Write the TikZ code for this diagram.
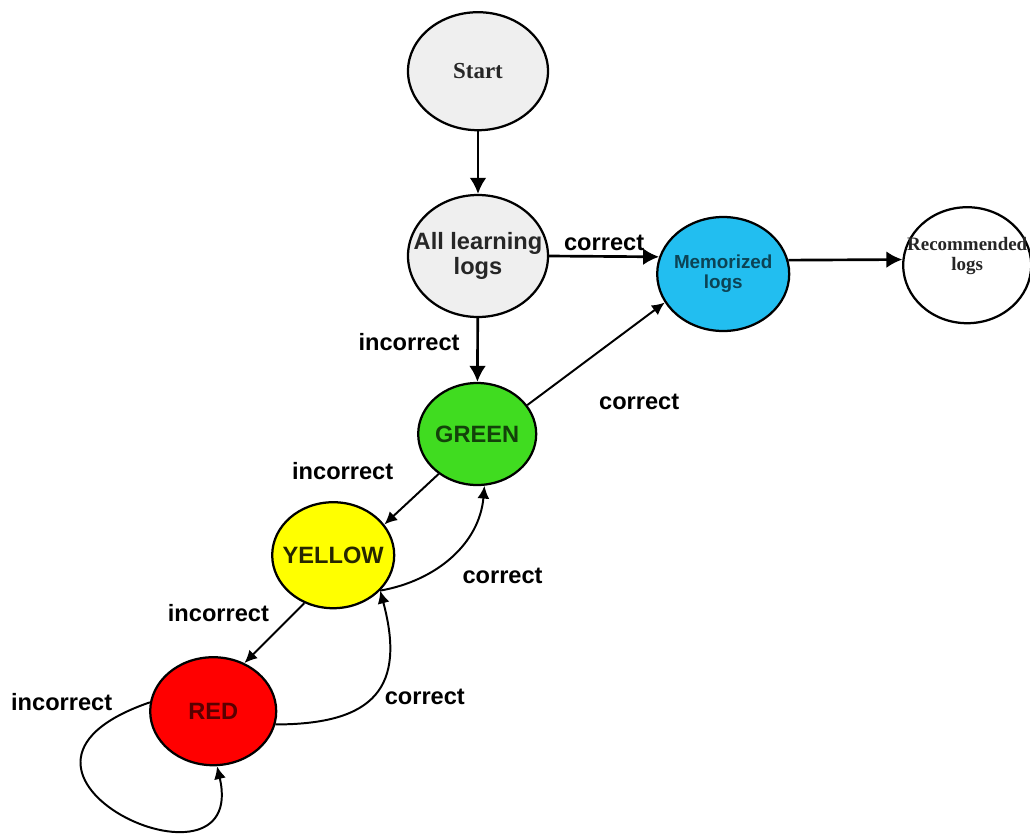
\documentclass[tikz,border=0pt]{standalone}
\usepackage{fontspec}
\setmainfont{Liberation Serif}
\setsansfont{Liberation Sans}
\usetikzlibrary{arrows.meta,shapes.geometric}
\definecolor{logsgrey}{HTML}{EFEFEF}
\definecolor{memblue}{HTML}{22BEF0}
\definecolor{boxgreen}{HTML}{40DC20}
\definecolor{boxyellow}{HTML}{FFFF00}
\definecolor{boxred}{HTML}{FF0000}
\newcommand{\ctext}[1]{\makebox[0pt]{#1}}

\begin{document}
\begin{tikzpicture}[
        logstate/.style={ellipse, draw, line width=1.6pt, inner sep=0pt, align=center,
            font=\sffamily\bfseries\fontsize{16.8}{17.8}\selectfont},
        lbl/.style={font=\sffamily\bfseries\fontsize{16.8}{18}\selectfont},
        thick arrow/.style={line width=1.9pt, -{Latex[length=0.4cm,width=0.42cm]}},
        thin arrow/.style={line width=1.4pt, -{Latex[length=0.32cm,width=0.3cm]}}
    ]
        \useasboundingbox (0,0) rectangle (25.75,-20.975);
        \node[logstate, fill=logsgrey, minimum width=3.5cm, minimum height=2.95cm,
            font=\rmfamily\bfseries\fontsize{16.3}{18}\selectfont, text=black!85](Start) at (11.95,-1.78) {\ctext{Start}};
        \node[logstate, fill=logsgrey, minimum width=3.5cm, minimum height=3.05cm,
            text=black!85](All) at (11.95,-6.4) {\ctext{All learning}\\\ctext{logs}};
        \node[logstate, fill=memblue, minimum width=3.3cm, minimum height=2.85cm, text=black!65!memblue,
            font=\sffamily\bfseries\fontsize{13.4}{14.2}\selectfont](Mem) at (18.08,-6.85) {\ctext{Memorized}\\\ctext{logs}};
        \node[logstate, minimum width=3.2cm, minimum height=2.9cm, text=black!85, text depth=0.55cm,
            font=\rmfamily\bfseries\fontsize{13.5}{14.2}\selectfont](Rec) at (24.18,-6.63) {\ctext{Recommended}\\\ctext{logs}};
        \node[logstate, fill=boxgreen, minimum width=2.95cm, minimum height=2.55cm,
            text=black!70!boxgreen](Green) at (11.93,-10.85) {\ctext{GREEN}};
        \node[logstate, fill=boxyellow, minimum width=3.05cm, minimum height=2.65cm,
            text=black!85!boxyellow](Yellow) at (8.33,-13.88) {\ctext{YELLOW}};
        \node[logstate, fill=boxred, minimum width=3.15cm, minimum height=2.7cm,
            text=black!65!boxred](Red) at (5.33,-17.78) {\ctext{RED}};
        \path
            (Start) edge [thick arrow] (All)
            (All) edge [thick arrow] node[lbl, left=0.3cm, pos=0.38] {incorrect} (Green)
            (All.east) edge [thick arrow] node[lbl, above] {correct} (Mem.165)
            (Mem.12) edge [thick arrow] (Rec.175)
            (Green.30) edge [thin arrow] node[lbl, xshift=1.08cm, yshift=-1.2cm] {correct} (Mem.206)
            (Green.226) edge [thin arrow] node[lbl, xshift=-1.72cm, yshift=0.7cm] {incorrect} (Yellow.31)
            (Yellow.323) edge [thin arrow, out=10, in=-95] node[lbl, xshift=1.27cm, yshift=-0.5cm] {correct} (Green.278)
            (Yellow.239) edge [thin arrow] node[lbl, xshift=-1.4cm, yshift=0.5cm] {incorrect} (Red.57)
            (Red.348) edge [thin arrow, out=0, in=-75, looseness=1.5] node[lbl, xshift=1.25cm, yshift=-0.08cm] {correct} (Yellow.323)
            (Red.172) edge [thin arrow, out=199, in=-77, out distance=5.3cm, in distance=3.65cm]
                node[lbl, pos=0, left=0.8cm] {incorrect} (Red.274)
            ;
    \end{tikzpicture}
\end{document}
